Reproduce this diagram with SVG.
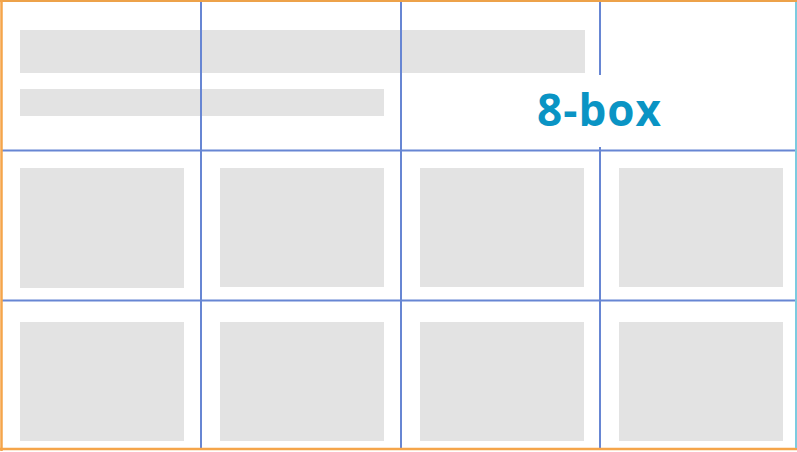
<svg xmlns="http://www.w3.org/2000/svg" width="797" height="452" viewBox="0 0 797 452">
  <style>
    .ph { fill: #e3e3e3; }
    .grid { stroke: #6786d3; stroke-width: 2; fill: none; }
    .label { font-family: "Open Sans", "Liberation Sans", sans-serif; font-weight: 700; fill: #0a94c4; }
  </style>
  <rect x="0" y="0" width="797" height="452" fill="#ffffff"/>
  <g id="placeholders">
    <rect class="ph" x="20" y="30" width="565" height="43"/>
    <rect class="ph" x="20" y="89" width="364" height="27"/>
    <rect class="ph" x="20" y="168" width="164" height="120"/>
    <rect class="ph" x="220" y="168" width="164" height="119"/>
    <rect class="ph" x="420" y="168" width="164" height="119"/>
    <rect class="ph" x="619" y="168" width="164" height="119"/>
    <rect class="ph" x="20" y="322" width="164" height="119"/>
    <rect class="ph" x="220" y="322" width="164" height="119"/>
    <rect class="ph" x="420" y="322" width="164" height="119"/>
    <rect class="ph" x="619" y="322" width="164" height="119"/>
  </g>
  <g id="grid">
    <line class="grid" x1="201" y1="2" x2="201" y2="449"/>
    <line class="grid" x1="401" y1="2" x2="401" y2="449"/>
    <line class="grid" x1="600" y1="2" x2="600" y2="75"/>
    <line class="grid" x1="600" y1="147" x2="600" y2="449"/>
    <line class="grid" x1="2" y1="150.5" x2="797" y2="150.5"/>
    <line class="grid" x1="2" y1="300.5" x2="797" y2="300.5"/>
  </g>
  <g id="border">
    <line x1="0" y1="1" x2="797" y2="1" stroke="#eda24a" stroke-width="2"/>
    <line x1="1.5" y1="0" x2="1.5" y2="451" stroke="#f5a54a" stroke-width="2.5"/>
    <line x1="0" y1="449" x2="797" y2="449" stroke="#f5a54a" stroke-width="2.5"/>
    <line x1="796" y1="2" x2="796" y2="448" stroke="#7ccbe0" stroke-width="2"/>
  </g>
  <g id="title">
    <text class="label" x="599.5" y="125.5" font-size="44" text-anchor="middle" letter-spacing="1">8-box</text>
  </g>
</svg>
